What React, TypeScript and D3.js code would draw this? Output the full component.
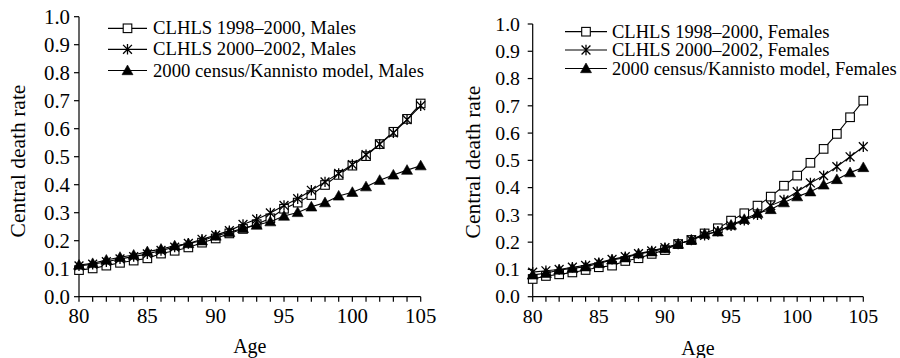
import { useEffect, useRef } from 'react'
import * as d3 from 'd3'

const ages = d3.range(80, 106)
const yTicks = [0, 0.1, 0.2, 0.3, 0.4, 0.5, 0.6, 0.7, 0.8, 0.9, 1.0]
const xTicks = [80, 85, 90, 95, 100, 105]

const males9800 = [0.095, 0.101, 0.111, 0.121, 0.129, 0.137, 0.154, 0.164, 0.176, 0.193, 0.208, 0.226, 0.242, 0.259, 0.28, 0.314, 0.336, 0.363, 0.399, 0.435, 0.468, 0.502, 0.545, 0.589, 0.635, 0.69]
const males0002 = [0.11, 0.116, 0.125, 0.135, 0.143, 0.153, 0.165, 0.177, 0.19, 0.205, 0.22, 0.236, 0.258, 0.277, 0.299, 0.326, 0.35, 0.38, 0.41, 0.44, 0.472, 0.507, 0.545, 0.585, 0.632, 0.682]
const malesCensus = [0.113, 0.119, 0.131, 0.141, 0.149, 0.161, 0.17, 0.182, 0.19, 0.2, 0.217, 0.23, 0.244, 0.256, 0.268, 0.288, 0.301, 0.321, 0.336, 0.36, 0.373, 0.393, 0.416, 0.435, 0.452, 0.468]

const females9800 = [0.065, 0.076, 0.082, 0.089, 0.098, 0.108, 0.114, 0.131, 0.141, 0.157, 0.171, 0.193, 0.208, 0.232, 0.251, 0.279, 0.306, 0.334, 0.367, 0.407, 0.444, 0.491, 0.542, 0.597, 0.658, 0.719]
const females0002 = [0.09, 0.095, 0.1, 0.108, 0.115, 0.125, 0.137, 0.147, 0.158, 0.168, 0.18, 0.193, 0.208, 0.225, 0.24, 0.26, 0.28, 0.3, 0.334, 0.355, 0.385, 0.417, 0.444, 0.477, 0.513, 0.55]
const femalesCensus = [0.08, 0.086, 0.098, 0.104, 0.11, 0.122, 0.135, 0.143, 0.157, 0.165, 0.177, 0.193, 0.208, 0.23, 0.238, 0.263, 0.284, 0.306, 0.32, 0.345, 0.367, 0.385, 0.41, 0.43, 0.455, 0.474]

const maleNames = ['CLHLS 1998–2000, Males', 'CLHLS 2000–2002, Males', '2000 census/Kannisto model, Males']
const femaleNames = ['CLHLS 1998–2000, Females', 'CLHLS 2000–2002, Females', '2000 census/Kannisto model, Females']
const markers = ['square', 'star', 'triangle']

const FONT = '"Liberation Serif", "Times New Roman", serif'

export default function App() {
  const ref = useRef<SVGSVGElement>(null)

  useEffect(() => {
    if (!ref.current) return
    const svg = d3.select(ref.current)
    svg.selectAll('*').remove()

    const panels = [
      {
        series: [males9800, males0002, malesCensus], names: maleNames,
        x0: 79, x1: 420.7, yTop: 16.7, yBot: 296.7, tickFs: 20.8, labelX: 70,
        legLineX: [108, 147], legTextX: 153, legY: [28.3, 49.3, 70.5], legFs: 18.7,
        yLabelX: 25, yLabelY: 161, ageY: 353,
      },
      {
        series: [females9800, females0002, femalesCensus], names: femaleNames,
        x0: 532.7, x1: 863.3, yTop: 24, yBot: 296.7, tickFs: 19.8, labelX: 520,
        legLineX: [565, 607], legTextX: 612, legY: [31.7, 50, 68.5], legFs: 18.5,
        yLabelX: 480, yLabelY: 162, ageY: 355,
      },
    ]

    const drawMarker = (g: d3.Selection<SVGGElement, unknown, null, undefined>, type: string, cx: number, cy: number) => {
      if (type === 'square') {
        g.append('rect')
          .attr('x', cx - 4.3).attr('y', cy - 4.3)
          .attr('width', 8.6).attr('height', 8.6)
          .attr('fill', '#fff').attr('stroke', '#000').attr('stroke-width', 1.1)
      } else if (type === 'star') {
        const r = 5.2
        const d = r * 0.85
        g.append('path')
          .attr('d', `M${cx},${cy - r}V${cy + r}M${cx - d},${cy - d}L${cx + d},${cy + d}M${cx - d},${cy + d}L${cx + d},${cy - d}`)
          .attr('stroke', '#000').attr('stroke-width', 1.3).attr('fill', 'none')
      } else {
        g.append('path')
          .attr('d', `M${cx},${cy - 5.5}L${cx + 5.5},${cy + 4.2}L${cx - 5.5},${cy + 4.2}Z`)
          .attr('fill', '#000').attr('stroke', '#000').attr('stroke-width', 0.6)
      }
    }

    panels.forEach(p => {
      const g = svg.append('g')
      const x = d3.scaleLinear().domain([80, 105]).range([p.x0, p.x1])
      const y = d3.scaleLinear().domain([0, 1]).range([p.yBot, p.yTop])

      // Axes
      g.append('line')
        .attr('x1', p.x0).attr('x2', p.x0).attr('y1', p.yTop).attr('y2', p.yBot)
        .attr('stroke', '#000').attr('stroke-width', 1.2)
      g.append('line')
        .attr('x1', p.x0).attr('x2', p.x1).attr('y1', p.yBot).attr('y2', p.yBot)
        .attr('stroke', '#000').attr('stroke-width', 1.2)

      yTicks.forEach(t => {
        g.append('line')
          .attr('x1', p.x0 - 5).attr('x2', p.x0).attr('y1', y(t)).attr('y2', y(t))
          .attr('stroke', '#000').attr('stroke-width', 1.2)
        g.append('text')
          .attr('x', p.labelX).attr('y', y(t))
          .attr('dy', '0.34em')
          .attr('text-anchor', 'end')
          .style('font-family', FONT).style('font-size', `${p.tickFs}px`)
          .text(t.toFixed(1))
      })

      ages.forEach(a => {
        g.append('line')
          .attr('x1', x(a)).attr('x2', x(a)).attr('y1', p.yBot).attr('y2', p.yBot + 5)
          .attr('stroke', '#000').attr('stroke-width', 1.2)
      })
      xTicks.forEach(t => {
        g.append('text')
          .attr('x', x(t)).attr('y', p.yBot + 26.5)
          .attr('text-anchor', 'middle')
          .style('font-family', FONT).style('font-size', `${p.tickFs}px`)
          .text(t)
      })

      // Axis labels
      g.append('text')
        .attr('x', (p.x0 + p.x1) / 2).attr('y', p.ageY)
        .attr('text-anchor', 'middle')
        .style('font-family', FONT).style('font-size', '20px')
        .text('Age')
      g.append('text')
        .attr('transform', `translate(${p.yLabelX},${p.yLabelY}) rotate(-90)`)
        .attr('text-anchor', 'middle')
        .style('font-family', FONT).style('font-size', '21.5px')
        .text('Central death rate')

      // Series
      p.series.forEach((vals, si) => {
        const line = d3.line<number>().x((_, i) => x(ages[i])).y(v => y(v))
        g.append('path')
          .attr('d', line(vals) || '')
          .attr('fill', 'none').attr('stroke', '#000').attr('stroke-width', 1.1)
        const mg = g.append('g')
        vals.forEach((v, i) => drawMarker(mg, markers[si], x(ages[i]), y(v)))
      })

      // Legend
      p.names.forEach((name, i) => {
        const ly = p.legY[i]
        g.append('line')
          .attr('x1', p.legLineX[0]).attr('x2', p.legLineX[1]).attr('y1', ly).attr('y2', ly)
          .attr('stroke', '#000').attr('stroke-width', 1.2)
        drawMarker(g, markers[i], (p.legLineX[0] + p.legLineX[1]) / 2, ly)
        g.append('text')
          .attr('x', p.legTextX).attr('y', ly + 6)
          .style('font-family', FONT).style('font-size', `${p.legFs}px`)
          .text(name)
      })
    })
  }, [])

  return (
    <svg ref={ref} width={900} height={358}
      style={{ position: 'absolute', left: 0, top: 0, background: '#fff' }} />
  )
}
